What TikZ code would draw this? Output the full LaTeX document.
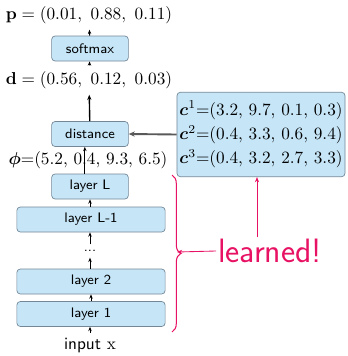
\documentclass[tikz,border=0pt]{standalone}
\usepackage{amsmath}
\usepackage{amssymb}
\usepackage{xcolor}
\usetikzlibrary{arrows.meta,decorations.pathreplacing}

\definecolor{boxblue}{RGB}{198,230,248}
\definecolor{boxline}{RGB}{115,135,150}
\definecolor{hotpink}{RGB}{232,18,100}

\tikzset{
  layerbox/.style={draw=boxline, fill=boxblue, rounded corners=2pt, font=\sffamily\footnotesize, minimum height=14.5pt, inner sep=0pt},
  flow/.style={-{Stealth[length=2.5pt,width=2pt]}, line width=0.5pt},
  pinkflow/.style={hotpink, -{Stealth[length=3pt,width=2.4pt]}, line width=0.5pt}
}

\begin{document}
\begin{tikzpicture}[x=0.58pt,y=-0.58pt]
\useasboundingbox (0,0) rectangle (347,356);

\node (p) at (89,15) {$\mathbf{p} = (0.01,\ 0.88,\ 0.11)$};
\node[layerbox, minimum width=44.5pt] (softmax) at (90,48.5) {softmax};
\node (d) at (89,80) {$\mathbf{d} = (0.56,\ 0.12,\ 0.03)$};
\node[layerbox, minimum width=44.5pt] (distance) at (90,134) {distance};
\node (phi) at (88,160) {$\boldsymbol{\phi}$=(5.2, 0.4, 9.3, 6.5)};
\node[layerbox, minimum width=44.5pt] (layerL) at (90,186.5) {layer L};
\node[layerbox, minimum width=86pt] (layerLm) at (91,219.5) {layer L-1};
\node[font=\sffamily\footnotesize] (dots) at (90,251) {...};
\node[layerbox, minimum width=86pt] (layer2) at (91,281.5) {layer 2};
\node[layerbox, minimum width=86pt] (layer1) at (91,314) {layer 1};
\node (input) at (90,346) {\sffamily input $\mathrm{x}$};

\node[draw=boxline, fill=boxblue, rounded corners=2pt, align=left, inner sep=1pt,
      minimum width=97.5pt, minimum height=49pt] (centroids) at (261,134.5)
  {$\boldsymbol{c}^1$=(3.2, 9.7, 0.1, 0.3)\\[2pt]
   $\boldsymbol{c}^2$=(0.4, 3.3, 0.6, 9.4)\\[2pt]
   $\boldsymbol{c}^3$=(0.4, 3.2, 2.7, 3.3)};

\node[hotpink, font=\sffamily\fontsize{19.6}{22}\selectfont, inner sep=1pt] (learned) at (270,251) {learned!};

% forward pass
\draw[flow] (softmax) -- (p);
\draw[flow] (d) -- (softmax);
\draw[-{Stealth[length=3pt,width=2.4pt]}, line width=0.8pt] (distance) -- (d);
\draw[flow] ([xshift=-3pt]layerL.north) -- ([xshift=-3pt]distance.south);
\draw[flow] (layerLm.north -| layerL.south) -- (layerL);
\draw[flow] (dots) -- (dots |- layerLm.south);
\draw[flow] (layer2.north -| dots.south) -- (dots);
\draw[flow] (layer1.north -| layer2.south) -- (layer2.south -| layer1.north);
\draw[flow] (input) -- (input |- layer1.south);
\draw[-{Stealth[length=3.5pt,width=3pt]}, line width=1.1pt, black!65] (centroids.west) -- (distance.east);

% what gets learned
\draw[hotpink, line width=0.6pt, decorate, decoration={brace, amplitude=5pt}] (172,175) -- (172,332);
\coordinate (bracetip) at (177,252);
\draw[pinkflow] (learned.west) -- (bracetip);
\draw[pinkflow] (learned.north -| 257,0) -- (centroids.south -| 257,0);

\end{tikzpicture}
\end{document}
